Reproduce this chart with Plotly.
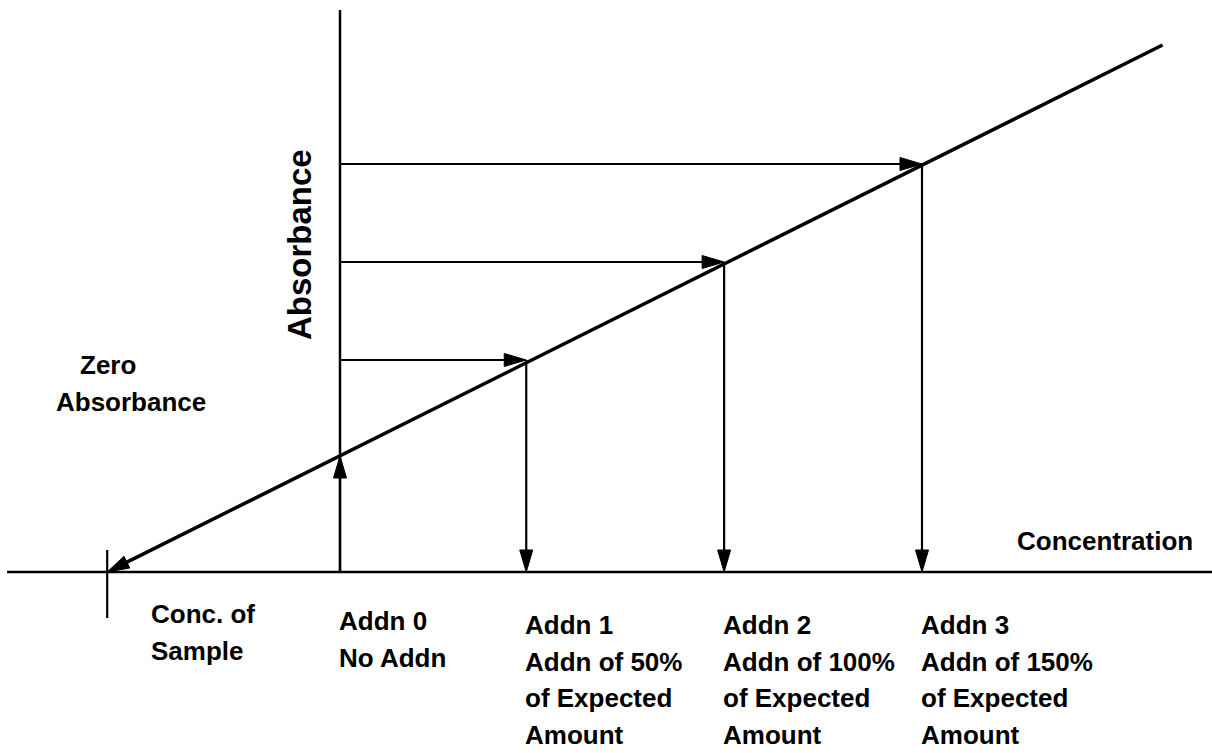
import math
import plotly.graph_objects as go

# ---------------- data ----------------
steps = ["Addn 0", "Addn 1", "Addn 2", "Addn 3"]
added_pct = [0, 48, 99, 150]              # concentration added, % of expected
absorbance = [1.16, 2.12, 3.10, 4.08]      # measured absorbance (arb. units)
sample_conc = -60                          # extrapolated x-intercept (conc. of sample)
line_end_conc = 212                        # end of the calibration line
line_end_abs = 5.27
axis_top_abs = 5.62                        # top of the absorbance axis
conc_axis = [-85.8, 225]                   # extent of the concentration axis
zero_tick = [0.22, -0.46]                  # extent of the "zero absorbance" tick

step_labels = [
    ["Addn 0", "No Addn"],
    ["Addn 1", "Addn of 50%", "of Expected", "Amount"],
    ["Addn 2", "Addn of 100%", "of Expected", "Amount"],
    ["Addn 3", "Addn of 150%", "of Expected", "Amount"],
]
sample_label = ["Conc. of", "Sample"]
x_title = "Concentration"
y_title = "Absorbance"
zero_title = ["Zero", "Absorbance"]

# ---------------- geometry / style ----------------
W, H = 1212, 753
X0, SX = 340.0, 3.88      # pixel of x=0 and pixels per x unit
Y0, SY = 572.0, 100.0     # pixel of y=0 and pixels per y unit
xr = [(0 - X0) / SX, (W - X0) / SX]
yr = [(Y0 - H) / SY, Y0 / SY]

FONT = "Liberation Sans, Arial, Helvetica, sans-serif"
BLACK = "#000000"
HEAD_L, HEAD_W = 22.0, 6.5   # arrow head length / half width in px
LINE_GAP = 36.5              # px between label lines


def to_px(x, y):
    return X0 + x * SX, Y0 - y * SY


def to_data(px, py):
    return (px - X0) / SX, (Y0 - py) / SY


fig = go.Figure()


def segment(x_a, y_a, x_b, y_b, width):
    fig.add_trace(go.Scatter(x=[x_a, x_b], y=[y_a, y_b], mode="lines",
                             line=dict(color=BLACK, width=width),
                             hoverinfo="skip", showlegend=False))


def arrow(x_from, y_from, x_to, y_to, width):
    """Shaft from (x_from,y_from) to (x_to,y_to) with a filled head at the end."""
    fx, fy = to_px(x_from, y_from)
    tx, ty = to_px(x_to, y_to)
    d = math.hypot(tx - fx, ty - fy)
    ux, uy = (tx - fx) / d, (ty - fy) / d
    bx, by = tx - HEAD_L * ux, ty - HEAD_L * uy
    px_, py_ = -uy, ux
    pts = [(tx, ty), (bx + HEAD_W * px_, by + HEAD_W * py_),
           (bx - HEAD_W * px_, by - HEAD_W * py_), (tx, ty)]
    dpts = [to_data(a, b) for a, b in pts]
    sx, sy = to_data(tx - HEAD_L * 0.6 * ux, ty - HEAD_L * 0.6 * uy)
    segment(x_from, y_from, sx, sy, width)
    fig.add_trace(go.Scatter(x=[p[0] for p in dpts], y=[p[1] for p in dpts],
                             mode="lines", fill="toself", fillcolor=BLACK,
                             line=dict(color=BLACK, width=1),
                             hoverinfo="skip", showlegend=False))


# concentration axis (horizontal) at absorbance 0
segment(conc_axis[0], 0, conc_axis[1], 0, 2.5)
# absorbance axis (vertical) at x = 0
segment(0, 0, 0, axis_top_abs, 2.5)
# zero-absorbance tick at the sample concentration
segment(sample_conc, zero_tick[0], sample_conc, zero_tick[1], 2.2)

# calibration line, arrow pointing at the x-intercept
arrow(line_end_conc, line_end_abs, sample_conc, 0, 3.5)

# Addn 0: arrow from the baseline up to the line
arrow(added_pct[0], 0, added_pct[0], absorbance[0], 2.2)

# Additions: horizontal arrows from the axis to the line, then down to baseline
for xc, ab in zip(added_pct[1:], absorbance[1:]):
    arrow(0, ab, xc, ab, 2.2)
    arrow(xc, ab, xc, 0, 2.2)

annotations = []


def label(text, px, py, size=26, xanchor="left", yanchor="middle", angle=0):
    x, y = to_data(px, py)
    annotations.append(dict(x=x, y=y, xref="x", yref="y", text=text,
                            showarrow=False, xanchor=xanchor, yanchor=yanchor,
                            align="left", textangle=angle,
                            font=dict(family=FONT, size=size, color=BLACK,
                                      weight="bold")))


def block(lines, px, py_first):
    for i, t in enumerate(lines):
        label(t, px, py_first + i * LINE_GAP)


# labels under the baseline
sx_px, _ = to_px(sample_conc, 0)
block(sample_label, sx_px + 42, 614)
block(step_labels[0], to_px(added_pct[0], 0)[0] - 3, 621)
for xc, lines in zip(added_pct[1:], step_labels[1:]):
    block(lines, to_px(xc, 0)[0] - 3, 625)

label(x_title, 1015, 541)
label(zero_title[0], sx_px - 29, 365)
label(zero_title[1], sx_px - 53, 402)
label(y_title, 299, 245, size=33, xanchor="center", angle=-90)

fig.update_layout(
    width=W, height=H, autosize=False,
    margin=dict(l=0, r=0, t=0, b=0, pad=0),
    paper_bgcolor="white", plot_bgcolor="white",
    showlegend=False,
    annotations=annotations,
    xaxis=dict(range=xr, visible=False, fixedrange=True),
    yaxis=dict(range=yr, visible=False, fixedrange=True),
)

fig.write_html("out.html", config={"displayModeBar": False},
               post_script="document.body.style.margin='0';")
